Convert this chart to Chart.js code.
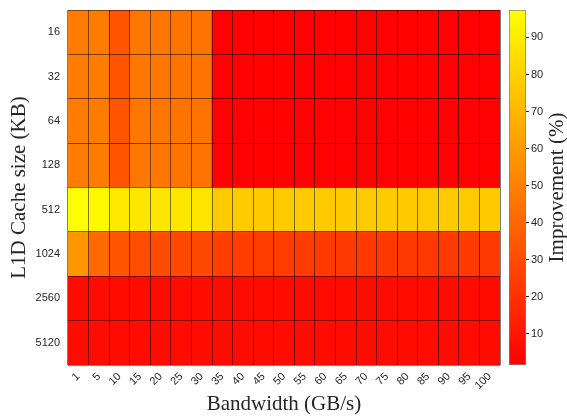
<!DOCTYPE html>
<html>
<head>
<meta charset="utf-8">
<script src="https://cdn.jsdelivr.net/npm/chart.js@4.4.1/dist/chart.umd.min.js"></script>
<style>
  html, body { margin: 0; padding: 0; background: #fff; }
  #wrap { position: relative; width: 567px; height: 417px; }
  #main { position: absolute; left: 0; top: 0; }
  #bar { position: absolute; left: 500px; top: 0; }
</style>
</head>
<body>
<div id="wrap">
  <canvas id="main" width="567" height="417"></canvas>
  <canvas id="bar" width="67" height="417"></canvas>
</div>
<script>
// x categories (bandwidth) and y categories (cache size, top to bottom)
const bandwidth = ['1','5','10','15','20','25','30','35','40','45','50','55','60','65','70','75','80','85','90','95','100'];
const cacheSize = ['16','32','64','128','512','1024','2560','5120'];

// improvement (%) per cache size row, one value per bandwidth column
const row16   = [48, 48, 33, 46, 46, 45, 45, 2, 2, 2, 2, 2, 2, 2, 2, 2, 2, 2, 2, 2, 2];
const row32   = [48, 48, 33, 46, 46, 45, 45, 2, 2, 2, 2, 2, 2, 2, 2, 2, 2, 2, 2, 2, 2];
const row64   = [48, 48, 33, 46, 46, 45, 45, 2, 2, 2, 2, 2, 2, 2, 2, 2, 2, 2, 2, 2, 2];
const row128  = [48, 48, 33, 46, 46, 45, 45, 2, 2, 2, 2, 2, 2, 2, 2, 2, 2, 2, 2, 2, 2];
const row512  = [97, 95, 89, 88, 88, 88, 88, 78, 78, 78, 78, 78, 78, 78, 78, 78, 78, 78, 78, 78, 78];
const row1024 = [58, 41, 33, 30, 30, 29, 29, 25, 25, 24, 24, 24, 23, 23, 23, 23, 23, 23, 23, 23, 23];
const row2560 = [6, 6, 6, 6, 6, 6, 6, 6, 6, 6, 6, 6, 6, 6, 6, 6, 6, 6, 6, 6, 6];
const row5120 = [6, 6, 6, 6, 6, 6, 6, 6, 6, 6, 6, 6, 6, 6, 6, 6, 6, 6, 6, 6, 6];
const rows = [row16, row32, row64, row128, row512, row1024, row2560, row5120];

// colour bar limits and ticks
const CMIN = 1.6;
const CMAX = 97.4;
const colorTicks = [10, 20, 30, 40, 50, 60, 70, 80, 90];

const TICK_FONT = { family: "'Liberation Sans', Helvetica, Arial, sans-serif", size: 11 };
const TITLE_FONT = { family: "'Liberation Serif', 'Times New Roman', serif", size: 21 };
const TEXT_COLOR = '#262626';
const LINE_COLOR = 'rgba(0,0,0,0.5)';

// matlab "autumn" colormap: red -> yellow
function autumn(v) {
    let t = (v - CMIN) / (CMAX - CMIN);
    t = Math.max(0, Math.min(1, t));
    return 'rgb(255,' + Math.round(255 * t) + ',0)';
}

// one dataset per row, bottom row first; each cell is a floating bar over its row band
const nRows = cacheSize.length;
const datasets = [];
for (let r = nRows - 1; r >= 0; r--) {
    const band = nRows - 1 - r;
    datasets.push({
        label: cacheSize[r],
        data: rows[r].map(() => [band, band + 1]),
        backgroundColor: rows[r].map(autumn),
        borderWidth: 0,
        barPercentage: 1,
        categoryPercentage: 1,
        grouped: false
    });
}

new Chart(document.getElementById('main'), {
    type: 'bar',
    data: { labels: bandwidth, datasets: datasets },
    options: {
        responsive: false,
        animation: false,
        layout: { padding: { top: 10, right: 67, left: 0, bottom: 0 } },
        plugins: { legend: { display: false }, tooltip: { enabled: false } },
        scales: {
            x: {
                offset: true,
                grid: { offset: true, color: LINE_COLOR, lineWidth: 1, drawTicks: false, z: 1 },
                border: { display: false },
                ticks: { font: TICK_FONT, color: TEXT_COLOR, minRotation: 45, maxRotation: 45, padding: 5, autoSkip: false },
                title: { display: true, text: 'Bandwidth (GB/s)', font: TITLE_FONT, color: TEXT_COLOR, padding: { top: 0, bottom: 0 } },
                afterFit: function (scale) { scale.height = 52; }
            },
            y: {
                min: 0,
                max: nRows,
                grid: { offset: true, color: LINE_COLOR, lineWidth: 1, drawTicks: false, z: 1 },
                border: { display: false },
                afterBuildTicks: function (scale) {
                    scale.ticks = cacheSize.map((_, i) => ({ value: i + 0.5 }));
                },
                ticks: {
                    font: TICK_FONT,
                    color: TEXT_COLOR,
                    padding: 8,
                    callback: function (value, index) { return cacheSize[nRows - 1 - index]; }
                },
                title: { display: true, text: 'L1D Cache size (KB)', font: TITLE_FONT, color: TEXT_COLOR, padding: { top: 7, bottom: 0 } },
                afterFit: function (scale) {
                    scale.width = 68;
                    scale.paddingTop = 0;
                    scale.paddingBottom = 0;
                }
            }
        }
    }
});

// colour bar title, drawn bottom-to-top like the left axis title
const barTitle = {
    id: 'barTitle',
    afterDraw(chart) {
        const ctx = chart.ctx;
        const area = chart.chartArea;
        ctx.save();
        ctx.translate(57, (area.top + area.bottom) / 2);
        ctx.rotate(-Math.PI / 2);
        ctx.font = TITLE_FONT.size + 'px ' + TITLE_FONT.family;
        ctx.fillStyle = TEXT_COLOR;
        ctx.textAlign = 'center';
        ctx.textBaseline = 'middle';
        ctx.fillText('Improvement (%)', 0, 0);
        ctx.restore();
    }
};

new Chart(document.getElementById('bar'), {
    type: 'bar',
    data: {
        labels: ['scale'],
        datasets: [{
            data: [[CMIN, CMAX]],
            barPercentage: 1,
            categoryPercentage: 1,
            borderWidth: 1,
            borderColor: LINE_COLOR,
            borderSkipped: false,
            backgroundColor: function (context) {
                const chart = context.chart;
                if (!chart.chartArea) return 'red';
                const y = chart.scales.y;
                const g = chart.ctx.createLinearGradient(0, y.getPixelForValue(CMIN), 0, y.getPixelForValue(CMAX));
                g.addColorStop(0, autumn(CMIN));
                g.addColorStop(1, autumn(CMAX));
                return g;
            }
        }]
    },
    options: {
        responsive: false,
        animation: false,
        layout: { padding: { top: 10, bottom: 52, left: 9, right: 0 } },
        plugins: { legend: { display: false }, tooltip: { enabled: false } },
        scales: {
            x: { display: false },
            y: {
                position: 'right',
                min: CMIN,
                max: CMAX,
                afterBuildTicks: function (scale) {
                    scale.ticks = colorTicks.map(v => ({ value: v }));
                },
                grid: { drawOnChartArea: false, drawTicks: true, tickLength: 3, color: TEXT_COLOR },
                border: { display: false },
                ticks: { font: TICK_FONT, color: TEXT_COLOR, padding: 2 },
                afterFit: function (scale) { scale.width = 41; }
            }
        }
    },
    plugins: [barTitle]
});
</script>
</body>
</html>
